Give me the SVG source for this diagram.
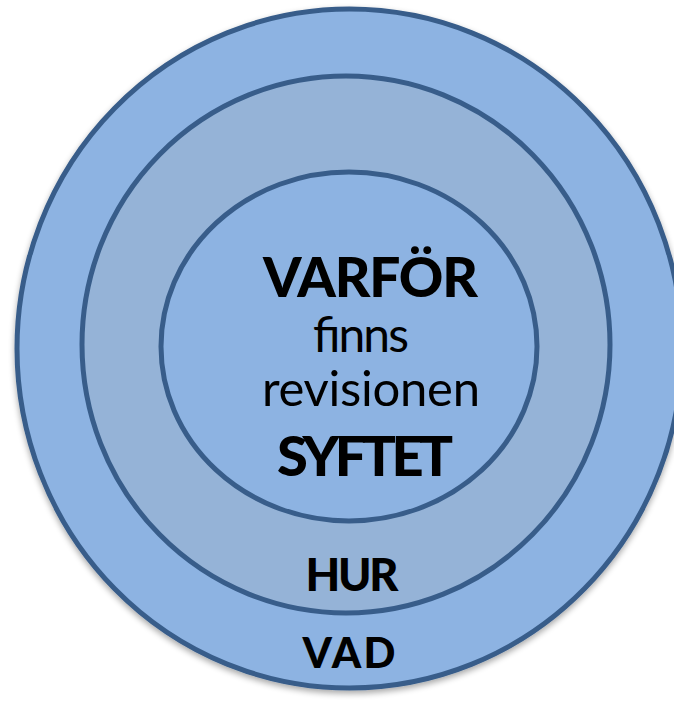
<svg xmlns="http://www.w3.org/2000/svg" width="674" height="701" viewBox="0 0 674 701">
<defs>
<filter id="sh" x="-10%" y="-10%" width="120%" height="120%">
<feGaussianBlur in="SourceAlpha" stdDeviation="3"/>
<feOffset dx="0" dy="3" result="b"/>
<feComponentTransfer><feFuncA type="linear" slope="0.35"/></feComponentTransfer>
<feMerge><feMergeNode/><feMergeNode in="SourceGraphic"/></feMerge>
</filter>
<style>
.ring{stroke:#385D8A;stroke-width:5}
.light{fill:#8DB3E2}
.mid{fill:#95B3D7}
.b{font-family:Lato,"Liberation Sans",sans-serif;font-weight:900;fill:#000;text-anchor:middle}
.r{font-family:Lato,"Liberation Sans",sans-serif;font-weight:normal;fill:#000;text-anchor:middle}
</style>
</defs>
<rect width="674" height="701" fill="#fff"/>
<g id="vad">
<ellipse class="ring light" cx="349.5" cy="348.5" rx="332.5" ry="339.5" filter="url(#sh)"/>
<text class="b" x="349" y="668" font-size="42" textLength="93">VAD</text>
</g>
<g id="hur">
<ellipse class="ring mid" cx="346" cy="344.5" rx="264" ry="268.5"/>
<text class="b" x="352" y="591" font-size="45" textLength="93">HUR</text>
</g>
<g id="varfor">
<ellipse class="ring light" cx="349" cy="346.5" rx="188" ry="174.5"/>
<text class="b" x="370.5" y="297" font-size="55" textLength="215">VARFÖR</text>
<text class="r" x="360" y="352" font-size="48" textLength="96">finns</text>
<text class="r" x="371" y="406" font-size="49" textLength="218">revisionen</text>
<text class="b" x="365" y="476" font-size="56" textLength="176">SYFTET</text>
</g>
<g id="connectors"/>
</svg>
